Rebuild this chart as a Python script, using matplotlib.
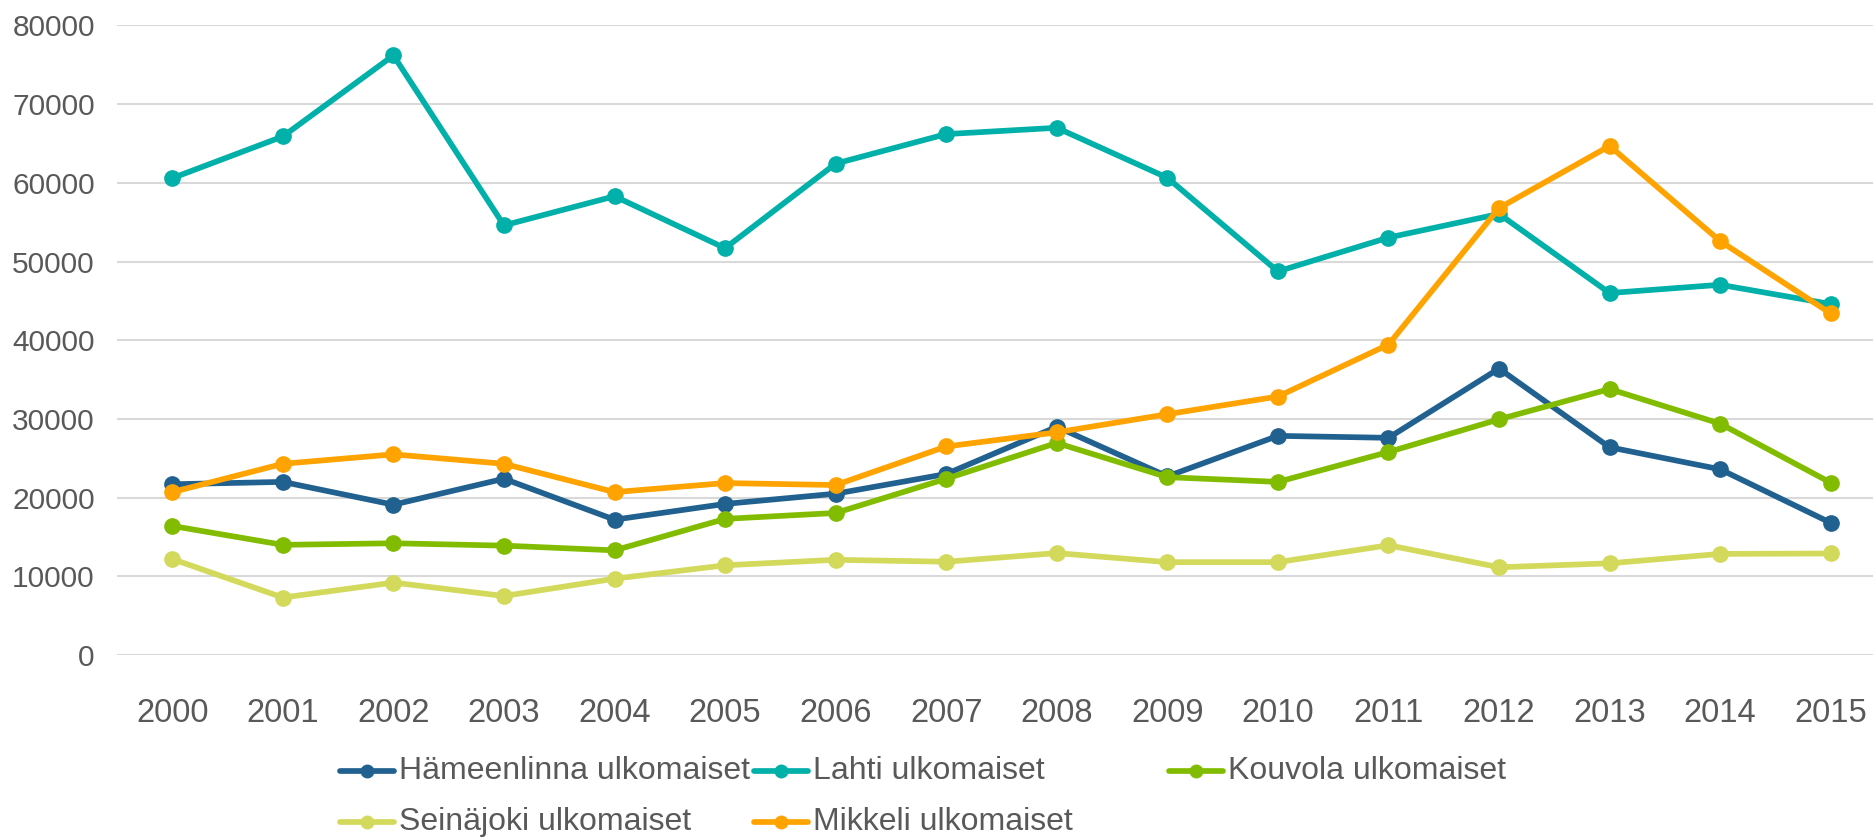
import matplotlib
matplotlib.use("Agg")
import matplotlib.pyplot as plt
from matplotlib.lines import Line2D

# ── data ────────────────────────────────────────────────────────
YEARS = [str(y) for y in range(2000, 2016)]

HAMEENLINNA = [21700, 22000, 19100, 22400, 17200, 19200, 20500, 23000,
               29000, 22700, 27850, 27600, 36400, 26400, 23600, 16800]
LAHTI       = [60600, 65900, 76200, 54600, 58300, 51700, 62450, 66200,
               67000, 60650, 48750, 53050, 56050, 46000, 47050, 44600]
KOUVOLA     = [16400, 14000, 14200, 13900, 13300, 17300, 18050, 22400,
               26950, 22600, 22000, 25800, 29950, 33800, 29400, 21900]
SEINAJOKI   = [12200,  7300,  9200,  7500,  9700, 11400, 12100, 11850,
               12950, 11800, 11800, 13950, 11150, 11650, 12850, 12900]
MIKKELI     = [20700, 24300, 25500, 24300, 20700, 21850, 21600, 26500,
               28300, 30600, 32850, 39450, 56800, 64700, 52600, 43400]

SERIES = [
    ("Hämeenlinna ulkomaiset", HAMEENLINNA, "#21618F"),
    ("Lahti ulkomaiset",       LAHTI,       "#00B0A9"),
    ("Kouvola ulkomaiset",     KOUVOLA,     "#82BC00"),
    ("Seinäjoki ulkomaiset",   SEINAJOKI,   "#D3D95B"),
    ("Mikkeli ulkomaiset",     MIKKELI,     "#FFA300"),
]
# draw order in the reference: light green behind, orange on top
DRAW_ORDER = [3, 2, 0, 1, 4]

TEXT = "#595959"
GRID = "#D9D9D9"

plt.rcParams.update({
    "font.family": ["Liberation Sans", "DejaVu Sans"],
    "text.color": TEXT,
    "xtick.color": TEXT,
    "ytick.color": TEXT,
})

W, H = 1874, 839
fig = plt.figure(figsize=(W / 100, H / 100), dpi=100)
fig.patch.set_facecolor("white")

# axes box in pixels: x 117..1886 (runs slightly past the right edge), y 25.5..655
ax = fig.add_axes([117 / W, (H - 655) / H, (1886 - 117) / W, (655 - 25.5) / H])

x = list(range(len(YEARS)))
for i in DRAW_ORDER:
    name, vals, col = SERIES[i]
    ax.plot(x, vals, color=col, lw=4.1, marker="o", ms=11,
            solid_capstyle="round", clip_on=False, zorder=3 + i)

ax.set_xlim(-0.5, len(YEARS) - 0.5)
ax.set_ylim(0, 80000)
ax.set_yticks(range(0, 80001, 10000))
ax.set_xticks(x)
ax.set_xticklabels(YEARS)
ax.yaxis.grid(True, color=GRID, lw=1.5)
ax.set_axisbelow(True)
for s in ax.spines.values():
    s.set_visible(False)
ax.tick_params(axis="y", length=0, pad=16, labelsize=21.5)
ax.tick_params(axis="x", length=0, pad=31, labelsize=23.5)

# ── legend: Excel-style equal-width columns ────────────────────
col_x = [340, 754, 1169]
row_y = [771, 822]
for k, (name, vals, col) in enumerate(SERIES):
    r, c = divmod(k, 3)
    x0, yy = col_x[c], H - row_y[r]
    fig.add_artist(Line2D([x0 / W, (x0 + 54) / W], [yy / H, yy / H],
                          transform=fig.transFigure, color=col, lw=4.1,
                          solid_capstyle="round"))
    fig.add_artist(Line2D([(x0 + 27) / W], [yy / H], transform=fig.transFigure,
                          color=col, marker="o", ms=9, lw=0))
    fig.text((x0 + 59) / W, yy / H, name, fontsize=23, color=TEXT,
             ha="left", va="center")

fig.savefig("out.png", dpi=100, facecolor="white")
